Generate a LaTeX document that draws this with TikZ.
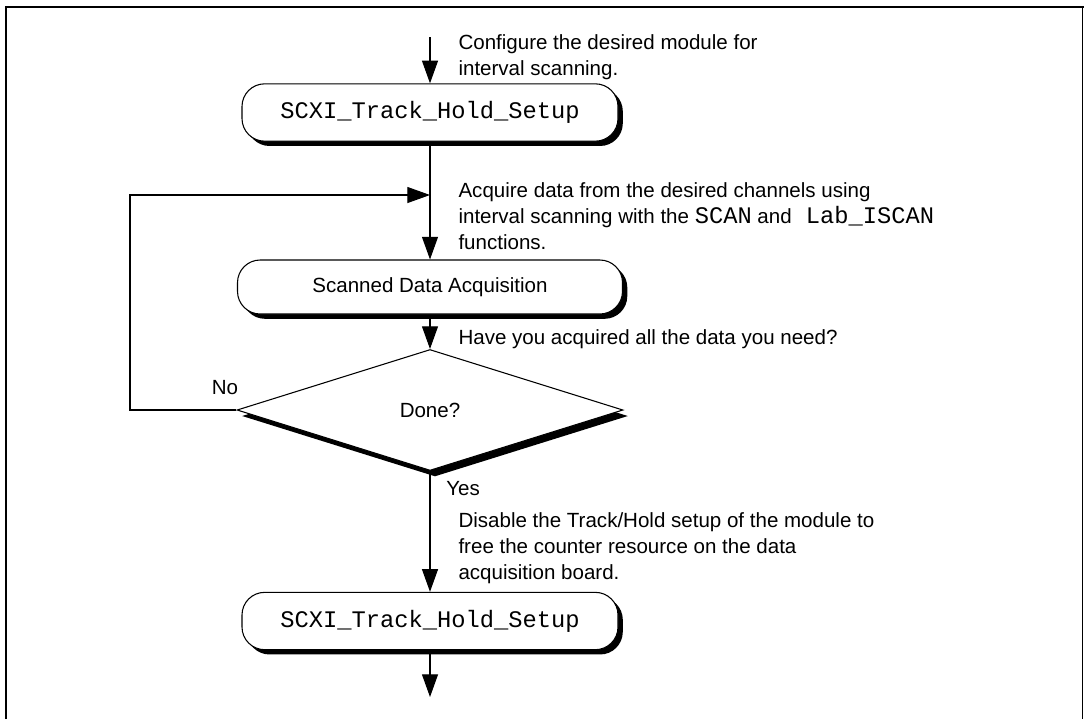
\documentclass[tikz,border=0pt]{standalone}
\usepackage{fontspec}
\setmainfont{Liberation Sans}
\setmonofont{Liberation Mono}[Scale=1.156]
\usetikzlibrary{arrows.meta,shapes.geometric,shadows}
\begin{document}
\begin{tikzpicture}[x=0.75pt,y=-0.75pt,line width=0.8pt,
  txt/.style={font=\fontsize{15.4}{19.6}\selectfont},
  flow/.style={-{Triangle[length=17pt,width=12pt]}},
  procbox/.style={draw,fill=white,rounded corners=17pt,inner sep=0pt,
    minimum height=43pt,
    drop shadow={shadow xshift=3.6pt,shadow yshift=-3.6pt,opacity=1,fill=black}},
  decision/.style={diamond,draw,fill=white,inner sep=0pt,
    minimum width=289.5pt,minimum height=90.75pt,txt,
    drop shadow={shadow xshift=3.75pt,shadow yshift=-4.5pt,opacity=1,fill=black}},
  note/.style={txt,anchor=north west,align=left,inner sep=0pt},
  lbl/.style={txt,inner sep=0pt}
]
\useasboundingbox (0,0) rectangle (1084,719);
% frame
\draw[line width=1.5pt] (6,719) -- (6,7) -- (1084,7);
\draw[line width=1.2pt] (1082.5,7) -- (1082.5,719);

% nodes
\node[procbox,minimum width=282pt,font=\fontsize{15.4}{20}\selectfont\ttfamily] (b1) at (430,112.5) {SCXI\_Track\_Hold\_Setup};
\node[procbox,minimum width=288.75pt,minimum height=40.5pt,txt] (b2) at (430,287) {Scanned Data Acquisition};
\node[decision] (d) at (430,410) {Done?};
\node[procbox,minimum width=282pt,font=\fontsize{15.4}{20}\selectfont\ttfamily] (b3) at (430,621) {SCXI\_Track\_Hold\_Setup};

\coordinate (top) at (430,37);
\coordinate (bot) at (430,697);
\coordinate (j) at (430,195);
\coordinate (lx) at (130,0);

% notes
\node[note] (t1) at (458,34) {Configure the desired module for\\interval scanning.};
\node[note] (t2) at (458,182) {Acquire data from the desired channels using\\interval scanning with the \texttt{SCAN} and\texttt{\ Lab\_ISCAN}\\functions.};
\node[note] (t3) at (458,329) {Have you acquired all the data you need?};
\node[note] (t4) at (458,512) {Disable the Track/Hold setup of the module to\\free the counter resource on the data\\acquisition board.};
\node[lbl] (no) at (225,388) {No};
\node[lbl] (yes) at (463,489) {Yes};

% connectors
\draw[flow] (top) -- (b1.north);
\draw[flow] (b1.south) -- (b2.north);
\draw[flow] (b2.south) -- (d.north);
\draw[flow] (d.west) -- (d.west -| lx) |- (j);
\draw[flow] (d.south) -- (b3.north);
\draw[flow] (b3.south) -- (bot);
\end{tikzpicture}
\end{document}
